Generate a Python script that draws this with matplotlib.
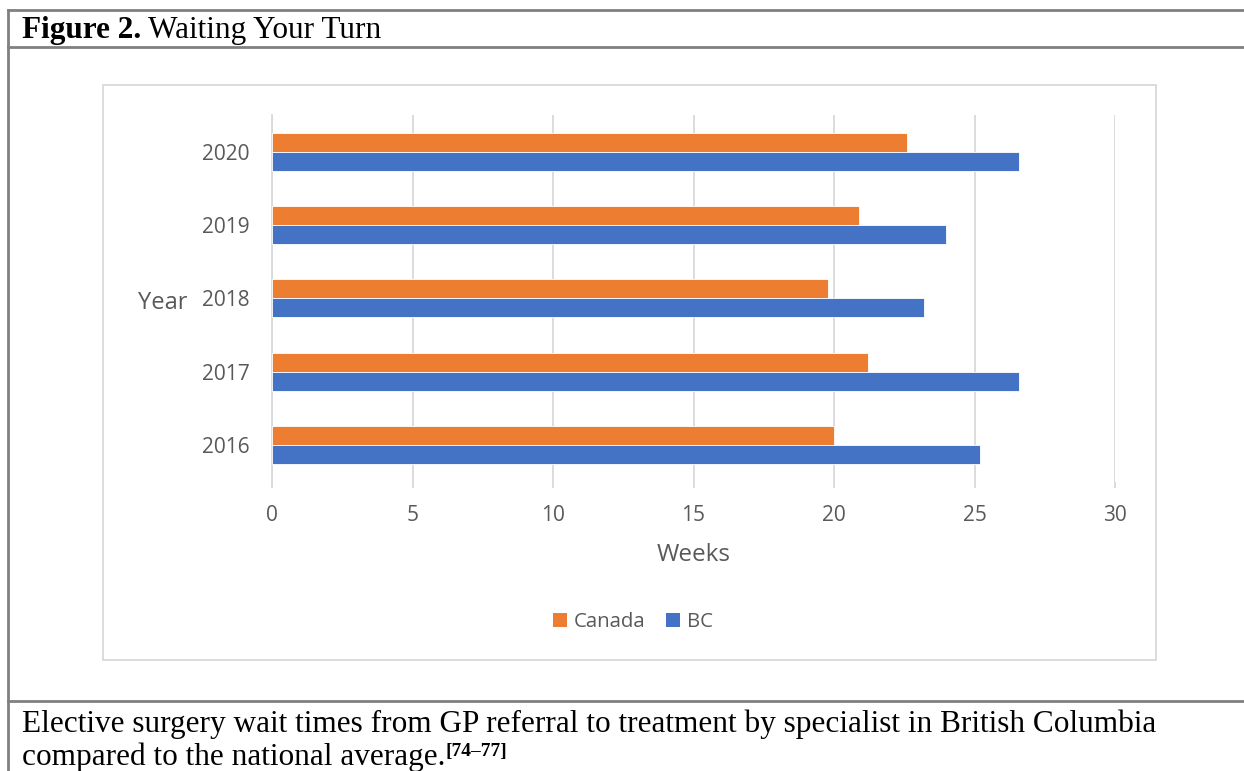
import matplotlib
matplotlib.use("Agg")
import matplotlib.pyplot as plt
from matplotlib.lines import Line2D
from matplotlib.patches import Rectangle, Patch
import numpy as np

# Elective surgery wait times (weeks), GP referral to specialist treatment
years = ["2016", "2017", "2018", "2019", "2020"]
canada = [20.0, 21.2, 19.8, 20.9, 22.6]
bc = [25.2, 26.6, 23.2, 24.0, 26.6]
x_ticks = [0, 5, 10, 15, 20, 25, 30]

W, H = 1244, 771
fig = plt.figure(figsize=(W / 100, H / 100), dpi=100)
fig.patch.set_facecolor("white")

TEXT = "#595959"
GRID = "#D9D9D9"
ORANGE = "#ED7D31"
BLUE = "#4472C4"
FRAME = "#808080"
SANS = ["Open Sans", "DejaVu Sans"]
SERIF = ["Liberation Serif", "DejaVu Serif"]


def fx(px):
    return px / W


def fy(py):
    return 1 - py / H


# Document frame: left rule plus horizontal rules around title and caption
for (x0, y0, x1, y1) in [(8, 10, 8, H), (8, 10, W, 10), (8, 47, W, 47), (8, 701, W, 701)]:
    fig.add_artist(Line2D([fx(x0), fx(x1)], [fy(y0), fy(y1)], color=FRAME, lw=2.0,
                          transform=fig.transFigure))

# Chart area border
fig.add_artist(Rectangle((fx(103), fy(660)), fx(1156) - fx(103), fy(85) - fy(660),
                         fill=False, edgecolor=GRID, lw=1.3, transform=fig.transFigure))

# Plot area
left, right, top, bottom = 272, 1115, 115, 481.7
ax = fig.add_axes([fx(left), fy(bottom), fx(right) - fx(left), fy(top) - fy(bottom)])

y = np.arange(len(years))
h = 0.26
ax.barh(y + h / 2, canada, height=h, color=ORANGE, edgecolor="white", lw=0.6,
        label="Canada", zorder=3)
ax.barh(y - h / 2, bc, height=h, color=BLUE, edgecolor="white", lw=0.6,
        label="BC", zorder=3)

ax.set_xlim(0, 30)
ax.set_ylim(-0.5, len(years) - 0.5)
ax.set_xticks(x_ticks)
ax.set_xticklabels([str(t) for t in x_ticks], fontsize=15, color=TEXT, family=SANS)
ax.set_yticks(y)
ax.set_yticklabels(years, fontsize=15, color=TEXT, family=SANS)
ax.tick_params(axis="x", length=4, color=GRID, width=1.3, pad=13)
ax.tick_params(axis="y", length=0, pad=16)
ax.grid(axis="x", color=GRID, lw=1.3, zorder=0)
for side in ["top", "right", "bottom"]:
    ax.spines[side].set_visible(False)
ax.spines["left"].set_color(GRID)
ax.spines["left"].set_linewidth(1.3)

ax.set_xlabel("Weeks", fontsize=17.5, color=TEXT, family=SANS, labelpad=12)
ax.set_ylabel("Year", fontsize=17, color=TEXT, family=SANS, rotation=0,
              va="center", ha="right")
ax.yaxis.set_label_coords(-0.1005, 0.488)

handles = [Patch(facecolor=ORANGE, edgecolor="none", label="Canada"),
           Patch(facecolor=BLUE, edgecolor="none", label="BC")]
fig.legend(handles=handles, loc="center", bbox_to_anchor=(fx(633), fy(622)), ncol=2,
           frameon=False, prop={"family": SANS, "size": 14.7}, labelcolor=TEXT,
           handlelength=0.7, handleheight=0.7, handletextpad=0.35, columnspacing=1.0)

# Title and caption
renderer = fig.canvas.get_renderer()
SZ = 22.5
t1 = fig.text(fx(22), fy(38), "Figure 2.", fontsize=SZ, fontweight="bold",
              family=SERIF, color="black", va="baseline")
bb = t1.get_window_extent(renderer)
fig.text(bb.x1 / W + fx(7), fy(38), "Waiting Your Turn", fontsize=SZ,
         family=SERIF, color="black", va="baseline")

fig.text(fx(22), fy(732), "Elective surgery wait times from GP referral to treatment by "
         "specialist in British Columbia", fontsize=SZ, family=SERIF, color="black",
         va="baseline")
c2 = fig.text(fx(22), fy(765), "compared to the national average.", fontsize=SZ,
              family=SERIF, color="black", va="baseline")
bb2 = c2.get_window_extent(renderer)
fig.text(bb2.x1 / W, fy(756), "[74\u201377]", fontsize=14, fontweight="bold",
         family=SERIF, color="black", va="baseline")

fig.savefig("out.png", dpi=100, facecolor="white")
